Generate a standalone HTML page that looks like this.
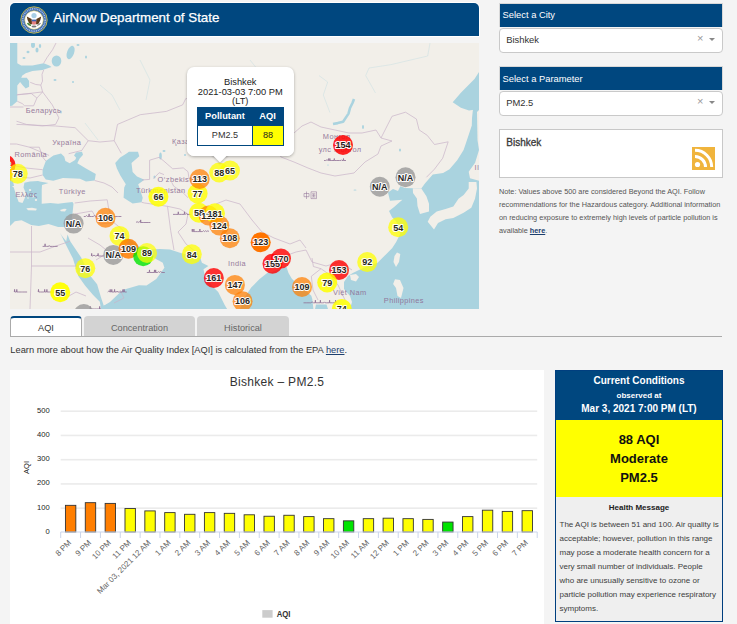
<!DOCTYPE html>
<html><head><meta charset="utf-8">
<style>
*{margin:0;padding:0;box-sizing:border-box}
html,body{width:737px;height:624px;overflow:hidden;background:#f4f4f4;font-family:"Liberation Sans",sans-serif;position:relative}
.abs{position:absolute}
#hdr{left:9px;top:2px;width:471px;height:35px;border:1px solid #fff;border-radius:6px 6px 0 0;background:#fff}
#hdr .in{position:absolute;left:0;top:0;width:469px;height:33px;background:#00477f;border-radius:5px 5px 0 0}
#hdr .t{position:absolute;left:43.3px;top:7px;color:#fff;font-size:13.35px;white-space:nowrap;-webkit-text-stroke:0.25px #fff}
#map{left:10px;top:43px;width:469px;height:266px;overflow:hidden;background:#f2efe9}
.panel{left:499px;width:224px}
.ph{position:absolute;left:0;top:0;width:224px;height:24px;background:#00477f;border:1px solid #d8d8d8;border-bottom:none;color:#fff;font-size:9.35px;padding:6.1px 0 0 2.6px}
.sel{position:absolute;left:0;top:25px;width:224px;height:24.5px;background:#fff;border:1px solid #c9c9c9;border-radius:4px;font-size:9.4px;color:#333;padding:4.8px 0 0 6.2px}
.sel .x{position:absolute;left:197px;top:3px;font-size:11px;color:#999}
.sel .ar{position:absolute;left:209px;top:9px;width:0;height:0;border-left:3px solid transparent;border-right:3px solid transparent;border-top:3.5px solid #888}
#rss{left:499px;top:129px;width:224px;height:49px;background:#fff;border:1px solid #c8c8c8}
#note{left:499px;top:185px;width:230px;font-size:7.3px;line-height:13px;color:#555}
#note b{color:#1c3f6e;text-decoration:underline}
.tab{top:316px;height:21px;font-size:9.2px;text-align:center;padding-top:5.3px}
#tab1{left:10px;width:72px;background:#fff;border:1px solid #aaa;border-top:2px solid #00477f;border-bottom:none;border-radius:4px 4px 0 0;color:#333}
#tab2{left:84px;width:111px;padding-top:7px;background:#d3d3d3;border-radius:4px 4px 0 0;color:#666}
#tab3{left:197px;width:92px;padding-top:7px;background:#d3d3d3;border-radius:4px 4px 0 0;color:#666}
#tabline{left:10px;top:336px;width:712px;height:1px;background:#aaa}
#learn{left:10.3px;top:345.4px;font-size:9.3px;color:#333;white-space:nowrap}
#learn u{color:#1c3f6e}
#chart{left:10px;top:370px;width:534px;height:254px;background:#fff}
#cc{left:555px;top:370px;width:168px;height:252px;border:1.5px solid #003f7f;background:#efefef}
#cc .h{position:absolute;left:0;top:0;width:100%;height:49px;background:#00477f;color:#fff;text-align:center;font-weight:bold}
#cc .y{position:absolute;left:0;top:49px;width:100%;height:77px;background:#ffff00;color:#111;text-align:center;font-weight:bold;font-size:13px;line-height:19px;padding-top:9.5px}
#cc .g{position:absolute;left:0;top:126px;width:100%;color:#333;font-size:8px}
</style></head><body>
<div id="hdr" class="abs"><div class="in">
 <svg class="abs" style="left:9.5px;top:2.5px" width="28" height="28" viewBox="0 0 28 28">
  <circle cx="14" cy="14" r="13.2" fill="#3a68b0" stroke="#cfc04a" stroke-width="0.9"/>
  <circle cx="14" cy="14" r="11.2" fill="none" stroke="#a9c2e6" stroke-width="1.6" stroke-dasharray="1 0.8"/>
  <circle cx="14" cy="14" r="9.3" fill="#fff" stroke="#d6c85a" stroke-width="0.6"/>
  <circle cx="14" cy="9.6" r="2.6" fill="#a8cfe6"/>
  <path d="M6.8 10.5 L11.6 13 L12.4 18.5 L9.4 17.8 L7.6 14 Z M21.2 10.5 L16.4 13 L15.6 18.5 L18.6 17.8 L20.4 14 Z" fill="#5c3c1c"/>
  <path d="M11.8 14.2 H16.2 V17.6 Q14 20 11.8 17.6 Z" fill="#e58080"/>
  <rect x="11.8" y="13.6" width="4.4" height="1.7" fill="#3a62b0"/>
  <path d="M7.5 17 Q9 19.5 11 19" stroke="#4b8a3a" stroke-width="1.6" fill="none"/>
  <path d="M17 19 Q19 19.5 20.5 17" stroke="#888" stroke-width="1.2" fill="none"/>
  <ellipse cx="14" cy="20.5" rx="2.5" ry="1" fill="#777"/>
 </svg>
 <div class="t">AirNow Department of State</div>
</div></div>

<div id="map" class="abs"><svg class="abs" style="left:0;top:0" width="469" height="266" viewBox="10 43 469 266" font-family="Liberation Sans, sans-serif">
<rect x="10" y="43" width="469" height="266" fill="#f2efe9"/>
<polygon points="10,43 17.3,43 17.3,63.2 21.2,65.4 32.4,65.4 43.7,63.2 49.3,65.4 51.5,67.1 42.5,69.9 32.4,71 25.7,73.3 22.3,75.5 21.2,77.8 26.8,77.8 29.1,81.1 29.1,86.8 25.7,88.4 22.9,85.6 20.1,82 17.3,85.6 17.3,101.3 14,104 12.2,105.8 10,106" fill="#aad3df" />
<ellipse cx="56.5" cy="61" rx="4.8" ry="5.6" fill="#aad3df" transform="rotate(0 56.5 61)"/>
<ellipse cx="70.6" cy="52.5" rx="3.5" ry="7" fill="#aad3df" transform="rotate(20 70.6 52.5)"/>
<ellipse cx="33" cy="45" rx="2" ry="3" fill="#aad3df" transform="rotate(0 33 45)"/>
<ellipse cx="37" cy="50" rx="1.5" ry="2.5" fill="#aad3df" transform="rotate(0 37 50)"/>
<ellipse cx="28" cy="52" rx="1.5" ry="1.2" fill="#aad3df" transform="rotate(0 28 52)"/>
<ellipse cx="40" cy="46" rx="1.2" ry="2" fill="#aad3df" transform="rotate(0 40 46)"/>
<ellipse cx="24" cy="58" rx="1.5" ry="1" fill="#aad3df" transform="rotate(0 24 58)"/>
<ellipse cx="78" cy="45" rx="1.5" ry="1" fill="#aad3df" transform="rotate(0 78 45)"/>
<ellipse cx="86" cy="57" rx="1" ry="1.5" fill="#aad3df" transform="rotate(0 86 57)"/>
<ellipse cx="55" cy="80" rx="1.5" ry="1" fill="#aad3df" transform="rotate(0 55 80)"/>
<ellipse cx="73" cy="82" rx="1" ry="1" fill="#aad3df" transform="rotate(0 73 82)"/>
<ellipse cx="61" cy="112" rx="0.8" ry="1.5" fill="#aad3df" transform="rotate(0 61 112)"/>
<polygon points="42.6,169.7 45.8,161 53.4,155.6 61,153.4 64.3,156.7 65.4,161 69.7,163.2 75.1,159.9 76.2,157.7 74,155.5 76,152.5 82,151.8 83,154.8 79.5,158.8 77.3,163.2 86,168.6 95.8,174 94.7,180.5 86,181.6 80,178.8 75.1,178.4 62.9,177.9 53.3,180.8 45.8,179.4 42.6,175.1" fill="#aad3df" />
<polygon points="129,151.7 138,151.7 139.3,156.2 131.5,163 132.6,172 137,176.4 144.4,179.8 138.2,184.3 142.7,197.8 141.6,202.3 132.6,203.4 123.6,197.8 124.2,187.6 125.8,184.3 120.2,175.3 116.9,168.6 115.2,163 120.2,157.4 125.8,154" fill="#aad3df" />
<polygon points="10,184.6 13.8,187.5 15.8,194.2 18.7,201.9 22.5,202.9 24.4,199 26.3,194.2 23.5,187.5 24.4,182.7 30,181.5 38,181 41,181.7 48.5,183 42,185 41.7,190 41.7,203.8 50.4,202.9 58.1,203.8 63.8,202.9 72.5,201.9 73.5,203.8 72.5,213.5 71.5,220.2 71.5,223.1 63.8,226.9 58.1,226.9 48.5,224 38.8,226 31.2,225 21.5,220.2 14.8,221.2 10,226" fill="#aad3df" />
<polygon points="10,178 13,181 14,186 10,186" fill="#aad3df" />
<polygon points="26.3,208.2 32,207.7 36.9,208.8 36,210.6 28,210.3" fill="#f2efe9" />
<polygon points="60,210 64,208.7 66.7,208.9 65,211.5 61,211.3" fill="#f2efe9" />
<ellipse cx="30" cy="190" rx="1.2" ry="1" fill="#f2efe9" transform="rotate(0 30 190)"/>
<ellipse cx="33" cy="196" rx="1" ry="1.5" fill="#f2efe9" transform="rotate(0 33 196)"/>
<ellipse cx="36" cy="200" rx="1.2" ry="1" fill="#f2efe9" transform="rotate(0 36 200)"/>
<ellipse cx="28" cy="198" rx="0.8" ry="0.8" fill="#f2efe9" transform="rotate(0 28 198)"/>
<polygon points="60.1,233.1 62,236 66.2,241.2 67.5,234.4 70.2,241.2 81,257.3 90.4,276.1 97.1,284.2 101.1,297.7 103.8,305.8 110,303 110,309 101,309 99.8,301.7 93.1,295 85,285.6 78.3,276.1 72.9,258.6 64.8,242.5" fill="#aad3df" />
<polygon points="104,309 103.8,305.8 110,302 122.6,290.1 138.9,285.3 146.5,285.6 156.3,279.1 164.4,267.7 162.8,262.8 156,259 150,256 145,251 136,244 128,238 122,240 130,246 140,249.5 150,249.5 160,249 170,249.5 180.7,253 200.3,257.9 201.9,262.8 208.4,266 203.5,269.3 205.1,277.5 213.3,287.2 218.2,292.1 224.7,305.1 227.1,309" fill="#aad3df" />
<polygon points="240,309 244.7,297.2 251.2,287.5 259.3,279.3 267.5,272.8 272.3,272 282.1,267.9 286.3,266.5 288.5,273 291.7,278.5 298,285 305,290 311.3,295.8 312.3,299 313.4,309" fill="#aad3df" />
<polygon points="316,304.5 326.5,304.5 328,309 315,309" fill="#aad3df" />
<polygon points="479,109 473,109 472,118 471.8,125.5 466.4,141.8 463.6,150 457.2,160.3 449.5,169.2 443.1,173.1 432.8,174.4 425.1,183.3 421.3,188.5 412.8,188.3 405,188 400.3,186.2 398,191 393,189 388,192.4 390,200.7 402.4,199.7 394.1,206.9 389,211 392.1,217.2 396.2,221.4 400.3,233.8 396.2,242.1 392.1,248.3 383.8,256.6 377.6,262.8 365.2,266.9 356.9,271 352.8,273.1 348,276 344,282 344,289 350,296 352,302 350,309 479,309" fill="#aad3df" />
<polygon points="452.7,102.3 460.9,92.7 474.5,79.1 479,72 479,109 469,110.4 460.9,107.7" fill="#aad3df" />
<polygon points="412.8,188.3 421.3,188.5 426.4,196.2 429,203.8 429,211.5 420,214.1 417.5,206 416.9,198.6 413,193" fill="#f2efe9" />
<polygon points="468.7,182 476.4,182 477,188.5 475,198.7 471.3,207.7 463.6,212.8 453.3,218 445.6,219.2 438,223 434,229.5 427.7,221.8 430.3,216.7 436.7,211.5 445.6,209 453.3,206.4 458.5,198.7 463.6,194.9 468.7,188.5" fill="#f2efe9" />
<polygon points="479,150 475.1,162.8 468.7,171.8 470,178.2 479,180.8" fill="#f2efe9" />
<polygon points="477,112 479,110 479,150 477.5,140" fill="#f2efe9" />
<polygon points="397,252.4 400.3,254 399,262 396,266.9 393.5,262 394.5,256" fill="#f2efe9" />
<polygon points="395,279.3 400,280 403.5,288 401,297.9 397.5,296 396,288 393.1,284" fill="#f2efe9" />
<polygon points="350,275 356,274.1 359,277 356,281.4 351,280" fill="#f2efe9" />
<polyline points="354,99 352.6,102.7 350,108 348.5,113.6 343.1,121.7 337.7,123.1 333,124" fill="none" stroke="#aad3df" stroke-width="2.6" stroke-linejoin="round" />
<polyline points="430,43 427.7,56 390.7,64.7 369,68 365.7,75.6 375.5,93" fill="none" stroke="#aad3df" stroke-width="0.5" stroke-linejoin="round" opacity="0.6"/>
<polyline points="319,75.6 327.7,82 323.3,95 329.9,112.5" fill="none" stroke="#aad3df" stroke-width="0.5" stroke-linejoin="round" opacity="0.6"/>
<polyline points="250,60 262,75 258,90" fill="none" stroke="#aad3df" stroke-width="0.5" stroke-linejoin="round" opacity="0.6"/>
<polyline points="140,60 150,80 146,100" fill="none" stroke="#aad3df" stroke-width="0.5" stroke-linejoin="round" opacity="0.6"/>
<polyline points="100,85 112,95 120,110" fill="none" stroke="#aad3df" stroke-width="0.5" stroke-linejoin="round" opacity="0.6"/>
<polyline points="85,123 98,140" fill="none" stroke="#aad3df" stroke-width="0.5" stroke-linejoin="round" opacity="0.6"/>
<ellipse cx="160.5" cy="156" rx="1.3" ry="3.5" fill="#aad3df" transform="rotate(0 160.5 156)"/>
<ellipse cx="154.5" cy="177" rx="1" ry="1.5" fill="#aad3df" transform="rotate(0 154.5 177)"/>
<ellipse cx="164" cy="151" rx="1.5" ry="1" fill="#aad3df" transform="rotate(0 164 151)"/>
<ellipse cx="130" cy="166" rx="0.8" ry="0.8" fill="#aad3df" transform="rotate(0 130 166)"/>
<ellipse cx="363" cy="127" rx="1" ry="2" fill="#aad3df" transform="rotate(0 363 127)"/>
<ellipse cx="400" cy="150" rx="1" ry="1.5" fill="#aad3df" transform="rotate(0 400 150)"/>
<ellipse cx="328" cy="165" rx="0.8" ry="0.6" fill="#aad3df" transform="rotate(0 328 165)"/>
<ellipse cx="355" cy="190" rx="1.5" ry="0.6" fill="#aad3df" transform="rotate(0 355 190)"/>
<ellipse cx="185" cy="155" rx="1" ry="1" fill="#aad3df" transform="rotate(0 185 155)"/>
<polyline points="56,43 52.6,49.7 47,57.6 43.7,63.2" fill="none" stroke="#c9b3c9" stroke-width="0.7" stroke-linejoin="round" />
<polyline points="43.7,69.9 42,74.4 42.5,81.1 40.8,85.1 35.8,84.5 30.2,82.3" fill="none" stroke="#c9b3c9" stroke-width="0.7" stroke-linejoin="round" />
<polyline points="40.8,85.1 42.6,91.9" fill="none" stroke="#c9b3c9" stroke-width="0.7" stroke-linejoin="round" />
<polyline points="17.3,94.6 31.3,93.5 36.9,98 42.6,91.9" fill="none" stroke="#c9b3c9" stroke-width="0.7" stroke-linejoin="round" />
<polyline points="17.3,101.3 22.3,103.6 24.6,105.8 33.6,105.8 36.9,98" fill="none" stroke="#c9b3c9" stroke-width="0.7" stroke-linejoin="round" />
<polyline points="16.5,95 42.6,91.9 52.3,104.9 58.9,117.9 55.6,124.4 42.6,126 26.3,124.4 16.5,121.2" fill="none" stroke="#c9b3c9" stroke-width="0.7" stroke-linejoin="round" />
<polyline points="10,107 23.5,107" fill="none" stroke="#c9b3c9" stroke-width="0.7" stroke-linejoin="round" />
<polyline points="16.5,124.4 55.6,126 75.1,127.7 88.2,140.7 81.7,150.5 68.6,153.7" fill="none" stroke="#c9b3c9" stroke-width="0.7" stroke-linejoin="round" />
<polyline points="49.1,155.4 29.5,147.2 16.5,144 10,144" fill="none" stroke="#c9b3c9" stroke-width="0.7" stroke-linejoin="round" />
<polyline points="29.5,147.2 39.3,147.2 42.6,157 45.8,161" fill="none" stroke="#c9b3c9" stroke-width="0.7" stroke-linejoin="round" />
<polyline points="10,160 16,166 26,168 42.6,169.7" fill="none" stroke="#c9b3c9" stroke-width="0.7" stroke-linejoin="round" />
<polyline points="10,178 18,177 30,178 42.6,175" fill="none" stroke="#c9b3c9" stroke-width="0.7" stroke-linejoin="round" />
<polyline points="94.7,180.5 104,183 112,187 118,193" fill="none" stroke="#c9b3c9" stroke-width="0.7" stroke-linejoin="round" />
<polyline points="74.7,203 90,201 107.2,199.8 108.8,209.5 113.7,222.5 121.8,229 128.4,237.2" fill="none" stroke="#c9b3c9" stroke-width="0.7" stroke-linejoin="round" />
<polyline points="75,214 92,211 100,224 113.7,222.5" fill="none" stroke="#c9b3c9" stroke-width="0.7" stroke-linejoin="round" />
<polyline points="88.2,140.7 100,142 114.2,140.7" fill="none" stroke="#c9b3c9" stroke-width="0.7" stroke-linejoin="round" />
<polyline points="114.2,140.7 117.5,124.4 140.3,114.7 166.4,111.4 182.6,104.9 185.9,98.4 200,104 218,104 240,108 260,113 280,118 294,133" fill="none" stroke="#c9b3c9" stroke-width="0.7" stroke-linejoin="round" />
<polyline points="114.2,140.7 121.3,153.3" fill="none" stroke="#c9b3c9" stroke-width="0.7" stroke-linejoin="round" />
<polyline points="142,180 149.6,179.4 149.6,160.2 159.2,157.3 164,161.2 172.7,168.8 183.3,167.9 188,171.7 189,178.5" fill="none" stroke="#c9b3c9" stroke-width="0.7" stroke-linejoin="round" />
<polyline points="171.7,182.3 173.7,186.2 182.3,192 188,197.7" fill="none" stroke="#c9b3c9" stroke-width="0.7" stroke-linejoin="round" />
<polyline points="153.5,178.5 159.2,172.7 164,174.6" fill="none" stroke="#c9b3c9" stroke-width="0.7" stroke-linejoin="round" />
<polyline points="141.6,202.3 144.6,203 167.5,206.3 180,209 188,214" fill="none" stroke="#c9b3c9" stroke-width="0.7" stroke-linejoin="round" />
<polyline points="167.5,206.3 170.7,230.7 174,250" fill="none" stroke="#c9b3c9" stroke-width="0.7" stroke-linejoin="round" />
<polyline points="188,214 186,224 178,232 186,244 196,252 200.3,257.9" fill="none" stroke="#c9b3c9" stroke-width="0.7" stroke-linejoin="round" />
<polyline points="216,204 226,200 240,204 252,220 262,232 274,238 290,244 300,240 306,248" fill="none" stroke="#c9b3c9" stroke-width="0.7" stroke-linejoin="round" />
<polyline points="270,255 282,257 296,252 306,250 312,262 326,266 340,262 352,270" fill="none" stroke="#c9b3c9" stroke-width="0.7" stroke-linejoin="round" />
<polyline points="312,258 313.4,266.5 321,268.7 311.3,276.3 313,290 318,300" fill="none" stroke="#c9b3c9" stroke-width="0.7" stroke-linejoin="round" />
<polyline points="321,268.7 330,275 338,285 345,300" fill="none" stroke="#c9b3c9" stroke-width="0.7" stroke-linejoin="round" />
<polyline points="10,252 40,252 56,246 70.2,241.2" fill="none" stroke="#c9b3c9" stroke-width="0.7" stroke-linejoin="round" />
<polyline points="31.5,226 31.5,266 60,266 78.3,266" fill="none" stroke="#c9b3c9" stroke-width="0.7" stroke-linejoin="round" />
<polyline points="31.5,266 30,309" fill="none" stroke="#c9b3c9" stroke-width="0.7" stroke-linejoin="round" />
<polyline points="88,238 100,245 116,258 104,255 96,260" fill="none" stroke="#c9b3c9" stroke-width="0.7" stroke-linejoin="round" />
<polyline points="120,290 124,298 114,303" fill="none" stroke="#c9b3c9" stroke-width="0.7" stroke-linejoin="round" />
<polyline points="62,300 76,292 86,296" fill="none" stroke="#c9b3c9" stroke-width="0.7" stroke-linejoin="round" />
<polyline points="294,133 302,126 311,122 321,127 335,130 349,133 362,133 376,130 381,138 392,141 381,146 378,154 365,162 354,173 335,176 321,173 308,168 294,162 281,157 275,146 284,140 294,133" fill="none" stroke="#c9b3c9" stroke-width="0.7" stroke-linejoin="round" />
<polyline points="381,138 392,116.3 405.5,112.2 416.4,119 419.1,129.9 427.2,135.3 434.5,144.5 448.2,141.8 442.7,158.2 434.5,169.1 426.4,177.3" fill="none" stroke="#c9b3c9" stroke-width="0.7" stroke-linejoin="round" />
<text x="25.7" y="112.5" font-size="7.4" fill="#8e6f95" letter-spacing="0.4" opacity="0.9">Беларусь</text>
<text x="52.3" y="144.7" font-size="7.4" fill="#8e6f95" letter-spacing="0.4" opacity="0.9">Україна</text>
<text x="14.6" y="156.6" font-size="7.4" fill="#8e6f95" letter-spacing="0.4" opacity="0.9">România</text>
<text x="58.8" y="193.6" font-size="7.4" fill="#8e6f95" letter-spacing="0.4" opacity="0.9">Türkiye</text>
<text x="15.4" y="196.8" font-size="7.4" fill="#8e6f95" letter-spacing="0.4" opacity="0.9">Ελλάς</text>
<text x="136" y="192.6" font-size="7.4" fill="#8e6f95" letter-spacing="0.4" opacity="0.9">Türkmenistan</text>
<text x="157.6" y="181.6" font-size="7.4" fill="#8e6f95" letter-spacing="0.4" opacity="0.9">O‘zbekiston</text>
<text x="172" y="144" font-size="7.4" fill="#8e6f95" letter-spacing="0.4" opacity="0.9">Қазақстан</text>
<text x="322.8" y="139.3" font-size="7.4" fill="#8e6f95" letter-spacing="0.4" opacity="0.9">Монгол</text>
<text x="318.7" y="151.6" font-size="7.4" fill="#8e6f95" letter-spacing="0.4" opacity="0.9">улс Монгол</text>
<text x="228" y="265.5" font-size="7.4" fill="#8e6f95" letter-spacing="0.4" opacity="0.9">India</text>
<text x="333" y="294.5" font-size="7.4" fill="#8e6f95" letter-spacing="0.4" opacity="0.9">Việt Nam</text>
<text x="383.8" y="303.3" font-size="7.4" fill="#8e6f95" letter-spacing="0.4" opacity="0.9">Philippines</text>
<text x="474.5" y="170" font-size="7.4" fill="#8e6f95" letter-spacing="0.4" opacity="0.9">II</text>
<path d="M83.8 216.5 L85.4 216.5 Q86.5 214.7 87.6 216.5 L87.6 216.5 L88.8 216.5 L89.1 213.9 L89.3 216.5 L91.6 216.5 L93.2 216.5 Q94.6 214.7 96.0 216.5 L96.0 216.5 L98.8 216.5 L100.4 216.5 L103.2 216.5 L104.4 216.5 L104.7 213.9 L104.9 216.5 L105.6 216.5 L105.9 213.9 L106.1 216.5 L106.8 216.5 Q108.2 214.7 109.6 216.5 L109.6 216.5 Q111.0 214.7 112.4 216.5 L112.4 216.5 L115.2 216.5 L117.4 216.5 L118.6 216.5 L121.4 216.5" fill="none" stroke="#8e6f95" stroke-width="1" opacity="0.8"/>
<path d="M136.0 222.5 Q137.1 220.7 138.2 222.5 L138.2 222.5 Q139.3 220.7 140.4 222.5 L140.4 222.5 L140.7 219.9 L140.9 222.5 L143.2 222.5 L146.0 222.5 L148.2 222.5 L150.4 222.5" fill="none" stroke="#8e6f95" stroke-width="1" opacity="0.8"/>
<path d="M42.6 246.4 L44.8 246.4 L45.1 243.8 L45.3 246.4 L46.4 246.4 L48.6 246.4 Q49.2 244.6 49.8 246.4 L49.8 246.4 L52.6 246.4 L54.8 246.4 L57.6 246.4" fill="none" stroke="#8e6f95" stroke-width="1" opacity="0.8"/>
<path d="M91.4 256.0 L91.7 253.4 L91.9 256.0 L92.6 256.0 Q94.0 254.2 95.4 256.0 L95.4 256.0 L96.6 256.0 Q97.2 254.2 97.8 256.0 L97.8 256.0 L98.1 253.4 L98.3 256.0 L100.0 256.0 L101.6 256.0 L103.8 256.0" fill="none" stroke="#8e6f95" stroke-width="1" opacity="0.8"/>
<path d="M146.8 272.5 L148.0 272.5 L149.2 272.5 L149.5 269.9 L149.7 272.5 L152.0 272.5 L154.2 272.5 L154.5 269.9 L154.7 272.5 L155.4 272.5 L155.7 269.9 L155.9 272.5 L157.6 272.5 Q158.4 270.7 159.2 272.5 L159.2 272.5 Q160.6 270.7 162.0 272.5 L162.0 272.5 L164.8 272.5" fill="none" stroke="#8e6f95" stroke-width="1" opacity="0.8"/>
<path d="M107.7 292.0 Q108.8 290.2 109.9 292.0 L109.9 292.0 L110.2 289.4 L110.4 292.0 L111.5 292.0 L111.8 289.4 L112.0 292.0 L114.3 292.0 L114.6 289.4 L114.8 292.0 L116.5 292.0 Q117.1 290.2 117.7 292.0 L117.7 292.0 L119.9 292.0 L122.7 292.0 L123.0 289.4 L123.2 292.0 L123.9 292.0 L124.2 289.4 L124.4 292.0 L126.7 292.0" fill="none" stroke="#8e6f95" stroke-width="1" opacity="0.8"/>
<path d="M38.2 292.0 L38.5 289.4 L38.7 292.0 L40.4 292.0 L43.2 292.0 L44.4 292.0 L44.7 289.4 L44.9 292.0 L46.6 292.0 L46.9 289.4 L47.1 292.0 L49.4 292.0 L51.6 292.0 L53.8 292.0" fill="none" stroke="#8e6f95" stroke-width="1" opacity="0.8"/>
<path d="M14.3 292.0 L14.6 289.4 L14.8 292.0 L16.5 292.0 L16.8 289.4 L17.0 292.0 L18.7 292.0 L21.5 292.0 L22.7 292.0 L24.9 292.0 L27.1 292.0" fill="none" stroke="#8e6f95" stroke-width="1" opacity="0.8"/>
<path d="M173.0 214.4 L175.2 214.4 L178.0 214.4 L178.3 211.8 L178.5 214.4 L179.2 214.4 L181.4 214.4 L184.2 214.4 L184.5 211.8 L184.7 214.4 L185.4 214.4 Q186.2 212.6 187.0 214.4 L187.0 214.4 L189.2 214.4 L190.4 214.4" fill="none" stroke="#8e6f95" stroke-width="1" opacity="0.8"/>
<path d="M192.0 231.6 L192.3 229.0 L192.5 231.6 L193.6 231.6 L193.9 229.0 L194.1 231.6 L195.2 231.6 L197.4 231.6 L199.6 231.6 L199.9 229.0 L200.1 231.6 L202.4 231.6 Q203.5 229.8 204.6 231.6 L204.6 231.6 Q205.7 229.8 206.8 231.6 L206.8 231.6 Q207.9 229.8 209.0 231.6 L209.0 231.6" fill="none" stroke="#8e6f95" stroke-width="1" opacity="0.8"/>
<path d="M303.5 302.8 L306.3 302.8 L309.1 302.8 L310.7 302.8 Q312.1 301.0 313.5 302.8 L313.5 302.8 L315.1 302.8 L315.4 300.2 L315.6 302.8 L317.9 302.8 L320.1 302.8 L320.4 300.2 L320.6 302.8 L321.3 302.8 L322.5 302.8 L323.7 302.8 Q324.5 301.0 325.3 302.8 L325.3 302.8 L326.5 302.8 L329.3 302.8 L329.6 300.2 L329.8 302.8 L330.9 302.8 L332.5 302.8 L335.3 302.8 L335.6 300.2 L335.8 302.8 L336.5 302.8" fill="none" stroke="#8e6f95" stroke-width="1" opacity="0.8"/>
<path d="M90.0 309.0 L90.3 306.4 L90.5 309.0 L91.6 309.0 L94.4 309.0 L96.6 309.0 L98.2 309.0 L99.4 309.0 L99.7 306.4 L99.9 309.0 L101.0 309.0" fill="none" stroke="#8e6f95" stroke-width="1" opacity="0.8"/>
<path d="M304 193.5 h5 v3.2 h-5 z M306.5 191.5 v7.5 M311 191.8 h5.5 v6.8 h-5.5 z M312 193.8 h3.5 M312 195.3 h3.5 M312 197 h3.5 M313.7 193.8 v3.2" fill="none" stroke="#8e6f95" stroke-width="0.7" opacity="0.75"/>
<path d="M324.0 160.5 L325.6 160.5 Q327.0 159.1 328.4 160.5 L328.4 160.5 L328.7 158.5 L328.9 160.5 L329.6 160.5 L329.9 158.5 L330.1 160.5 L331.2 160.5 L334.0 160.5 L334.3 158.5 L334.5 160.5 L336.8 160.5 L338.0 160.5 L339.6 160.5 L340.8 160.5 Q341.4 159.1 342.0 160.5 L342.0 160.5 L343.2 160.5 L343.5 158.5 L343.7 160.5 L346.0 160.5" fill="none" stroke="#8e6f95" stroke-width="1" opacity="0.8"/>
<circle cx="5.6" cy="165" r="10" fill="#ff0000" fill-opacity="0.85"/>
<circle cx="2.5" cy="174.5" r="10" fill="#ff7e00" fill-opacity="0.85"/>
<circle cx="17.7" cy="173.7" r="10" fill="#ffff00" fill-opacity="0.72"/>
<circle cx="343" cy="145" r="10" fill="#ff0000" fill-opacity="0.85"/>
<circle cx="379.8" cy="186.8" r="10" fill="#999999" fill-opacity="0.8"/>
<circle cx="405.5" cy="177.3" r="10" fill="#999999" fill-opacity="0.8"/>
<circle cx="398.2" cy="227.3" r="10" fill="#ffff00" fill-opacity="0.75"/>
<circle cx="367.2" cy="262.1" r="10" fill="#ffff00" fill-opacity="0.75"/>
<circle cx="339" cy="270" r="10" fill="#ff0000" fill-opacity="0.8"/>
<circle cx="327.2" cy="282.5" r="10" fill="#ffff00" fill-opacity="0.85"/>
<circle cx="302" cy="287" r="10" fill="#ff7e00" fill-opacity="0.72"/>
<circle cx="341.8" cy="309" r="10" fill="#ffff00" fill-opacity="0.85"/>
<circle cx="272.5" cy="263.7" r="10" fill="#ff0000" fill-opacity="0.8"/>
<circle cx="281" cy="258.5" r="10" fill="#ff0000" fill-opacity="0.8"/>
<circle cx="260.7" cy="242.2" r="10" fill="#ff7400" fill-opacity="1"/>
<circle cx="229.8" cy="238.2" r="10" fill="#ff7e00" fill-opacity="0.72"/>
<circle cx="197.6" cy="193.5" r="10" fill="#ffff00" fill-opacity="0.8"/>
<circle cx="199.7" cy="179" r="10" fill="#ff7e00" fill-opacity="0.72"/>
<circle cx="219.2" cy="172.5" r="10" fill="#ffff00" fill-opacity="0.75"/>
<circle cx="230" cy="170.5" r="10" fill="#ffff00" fill-opacity="0.75"/>
<circle cx="158.4" cy="196.7" r="10" fill="#ffff00" fill-opacity="0.85"/>
<circle cx="199" cy="212.8" r="10" fill="#ffff00" fill-opacity="0.8"/>
<circle cx="208.5" cy="215.5" r="10" fill="#ff7e00" fill-opacity="0.72"/>
<circle cx="215" cy="213.3" r="10" fill="#ffff00" fill-opacity="0.8"/>
<circle cx="219.3" cy="225.5" r="10" fill="#ff7e00" fill-opacity="0.72"/>
<circle cx="105.5" cy="217.8" r="10" fill="#ff7e00" fill-opacity="0.72"/>
<circle cx="73.6" cy="223.6" r="10" fill="#999999" fill-opacity="0.8"/>
<circle cx="119.5" cy="235.9" r="10" fill="#ffff00" fill-opacity="0.75"/>
<circle cx="113.3" cy="254.9" r="10" fill="#999999" fill-opacity="0.8"/>
<circle cx="128.5" cy="248.7" r="10" fill="#ff7e00" fill-opacity="0.85"/>
<circle cx="143.2" cy="256.3" r="10" fill="#00e400" fill-opacity="0.8"/>
<circle cx="147" cy="253" r="10" fill="#ffff00" fill-opacity="0.7"/>
<circle cx="191.8" cy="254.3" r="10" fill="#ffff00" fill-opacity="0.75"/>
<circle cx="85.3" cy="268.3" r="10" fill="#ffff00" fill-opacity="0.75"/>
<circle cx="60.2" cy="292.3" r="10" fill="#ffff00" fill-opacity="0.95"/>
<circle cx="213.8" cy="278" r="10" fill="#ff0000" fill-opacity="0.8"/>
<circle cx="234.9" cy="284.9" r="10" fill="#ff7e00" fill-opacity="0.72"/>
<circle cx="242.6" cy="301.2" r="10" fill="#ff7e00" fill-opacity="0.72"/>
<circle cx="83.8" cy="314" r="10" fill="#999999" fill-opacity="0.8"/>
<text x="5.6" y="168.2" text-anchor="middle" font-size="9" font-weight="bold" fill="#1a1a1a" stroke="#fff" stroke-width="2.2" stroke-linejoin="round" paint-order="stroke" opacity="0.95">72</text>
<text x="17.7" y="176.89999999999998" text-anchor="middle" font-size="9" font-weight="bold" fill="#1a1a1a" stroke="#fff" stroke-width="2.2" stroke-linejoin="round" paint-order="stroke" opacity="0.95">78</text>
<text x="343" y="148.2" text-anchor="middle" font-size="9" font-weight="bold" fill="#1a1a1a" stroke="#fff" stroke-width="2.2" stroke-linejoin="round" paint-order="stroke" opacity="0.95">154</text>
<text x="379.8" y="190.0" text-anchor="middle" font-size="9" font-weight="bold" fill="#1a1a1a" stroke="#fff" stroke-width="2.2" stroke-linejoin="round" paint-order="stroke" opacity="0.95">N/A</text>
<text x="405.5" y="180.5" text-anchor="middle" font-size="9" font-weight="bold" fill="#1a1a1a" stroke="#fff" stroke-width="2.2" stroke-linejoin="round" paint-order="stroke" opacity="0.95">N/A</text>
<text x="398.2" y="230.5" text-anchor="middle" font-size="9" font-weight="bold" fill="#1a1a1a" stroke="#fff" stroke-width="2.2" stroke-linejoin="round" paint-order="stroke" opacity="0.95">54</text>
<text x="367.2" y="265.3" text-anchor="middle" font-size="9" font-weight="bold" fill="#1a1a1a" stroke="#fff" stroke-width="2.2" stroke-linejoin="round" paint-order="stroke" opacity="0.95">92</text>
<text x="339" y="273.2" text-anchor="middle" font-size="9" font-weight="bold" fill="#1a1a1a" stroke="#fff" stroke-width="2.2" stroke-linejoin="round" paint-order="stroke" opacity="0.95">153</text>
<text x="327.2" y="285.7" text-anchor="middle" font-size="9" font-weight="bold" fill="#1a1a1a" stroke="#fff" stroke-width="2.2" stroke-linejoin="round" paint-order="stroke" opacity="0.95">79</text>
<text x="302" y="290.2" text-anchor="middle" font-size="9" font-weight="bold" fill="#1a1a1a" stroke="#fff" stroke-width="2.2" stroke-linejoin="round" paint-order="stroke" opacity="0.95">109</text>
<text x="341.8" y="312.2" text-anchor="middle" font-size="9" font-weight="bold" fill="#1a1a1a" stroke="#fff" stroke-width="2.2" stroke-linejoin="round" paint-order="stroke" opacity="0.95">74</text>
<text x="272.5" y="266.9" text-anchor="middle" font-size="9" font-weight="bold" fill="#1a1a1a" stroke="#fff" stroke-width="2.2" stroke-linejoin="round" paint-order="stroke" opacity="0.95">155</text>
<text x="281" y="261.7" text-anchor="middle" font-size="9" font-weight="bold" fill="#1a1a1a" stroke="#fff" stroke-width="2.2" stroke-linejoin="round" paint-order="stroke" opacity="0.95">170</text>
<text x="260.7" y="245.39999999999998" text-anchor="middle" font-size="9" font-weight="bold" fill="#1a1a1a" stroke="#fff" stroke-width="2.2" stroke-linejoin="round" paint-order="stroke" opacity="0.95">123</text>
<text x="229.8" y="241.39999999999998" text-anchor="middle" font-size="9" font-weight="bold" fill="#1a1a1a" stroke="#fff" stroke-width="2.2" stroke-linejoin="round" paint-order="stroke" opacity="0.95">108</text>
<text x="197.6" y="196.7" text-anchor="middle" font-size="9" font-weight="bold" fill="#1a1a1a" stroke="#fff" stroke-width="2.2" stroke-linejoin="round" paint-order="stroke" opacity="0.95">77</text>
<text x="199.7" y="182.2" text-anchor="middle" font-size="9" font-weight="bold" fill="#1a1a1a" stroke="#fff" stroke-width="2.2" stroke-linejoin="round" paint-order="stroke" opacity="0.95">113</text>
<text x="219.2" y="175.7" text-anchor="middle" font-size="9" font-weight="bold" fill="#1a1a1a" stroke="#fff" stroke-width="2.2" stroke-linejoin="round" paint-order="stroke" opacity="0.95">88</text>
<text x="230" y="173.7" text-anchor="middle" font-size="9" font-weight="bold" fill="#1a1a1a" stroke="#fff" stroke-width="2.2" stroke-linejoin="round" paint-order="stroke" opacity="0.95">65</text>
<text x="158.4" y="199.89999999999998" text-anchor="middle" font-size="9" font-weight="bold" fill="#1a1a1a" stroke="#fff" stroke-width="2.2" stroke-linejoin="round" paint-order="stroke" opacity="0.95">66</text>
<text x="199" y="216.0" text-anchor="middle" font-size="9" font-weight="bold" fill="#1a1a1a" stroke="#fff" stroke-width="2.2" stroke-linejoin="round" paint-order="stroke" opacity="0.95">58</text>
<text x="208.5" y="218.7" text-anchor="middle" font-size="9" font-weight="bold" fill="#1a1a1a" stroke="#fff" stroke-width="2.2" stroke-linejoin="round" paint-order="stroke" opacity="0.95">118</text>
<text x="215" y="216.5" text-anchor="middle" font-size="9" font-weight="bold" fill="#1a1a1a" stroke="#fff" stroke-width="2.2" stroke-linejoin="round" paint-order="stroke" opacity="0.95">181</text>
<text x="219.3" y="228.7" text-anchor="middle" font-size="9" font-weight="bold" fill="#1a1a1a" stroke="#fff" stroke-width="2.2" stroke-linejoin="round" paint-order="stroke" opacity="0.95">124</text>
<text x="105.5" y="221.0" text-anchor="middle" font-size="9" font-weight="bold" fill="#1a1a1a" stroke="#fff" stroke-width="2.2" stroke-linejoin="round" paint-order="stroke" opacity="0.95">106</text>
<text x="73.6" y="226.79999999999998" text-anchor="middle" font-size="9" font-weight="bold" fill="#1a1a1a" stroke="#fff" stroke-width="2.2" stroke-linejoin="round" paint-order="stroke" opacity="0.95">N/A</text>
<text x="119.5" y="239.1" text-anchor="middle" font-size="9" font-weight="bold" fill="#1a1a1a" stroke="#fff" stroke-width="2.2" stroke-linejoin="round" paint-order="stroke" opacity="0.95">74</text>
<text x="113.3" y="258.1" text-anchor="middle" font-size="9" font-weight="bold" fill="#1a1a1a" stroke="#fff" stroke-width="2.2" stroke-linejoin="round" paint-order="stroke" opacity="0.95">N/A</text>
<text x="128.5" y="251.89999999999998" text-anchor="middle" font-size="9" font-weight="bold" fill="#1a1a1a" stroke="#fff" stroke-width="2.2" stroke-linejoin="round" paint-order="stroke" opacity="0.95">109</text>
<text x="147" y="256.2" text-anchor="middle" font-size="9" font-weight="bold" fill="#1a1a1a" stroke="#fff" stroke-width="2.2" stroke-linejoin="round" paint-order="stroke" opacity="0.95">89</text>
<text x="191.8" y="257.5" text-anchor="middle" font-size="9" font-weight="bold" fill="#1a1a1a" stroke="#fff" stroke-width="2.2" stroke-linejoin="round" paint-order="stroke" opacity="0.95">84</text>
<text x="85.3" y="271.5" text-anchor="middle" font-size="9" font-weight="bold" fill="#1a1a1a" stroke="#fff" stroke-width="2.2" stroke-linejoin="round" paint-order="stroke" opacity="0.95">76</text>
<text x="60.2" y="295.5" text-anchor="middle" font-size="9" font-weight="bold" fill="#1a1a1a" stroke="#fff" stroke-width="2.2" stroke-linejoin="round" paint-order="stroke" opacity="0.95">55</text>
<text x="213.8" y="281.2" text-anchor="middle" font-size="9" font-weight="bold" fill="#1a1a1a" stroke="#fff" stroke-width="2.2" stroke-linejoin="round" paint-order="stroke" opacity="0.95">161</text>
<text x="234.9" y="288.09999999999997" text-anchor="middle" font-size="9" font-weight="bold" fill="#1a1a1a" stroke="#fff" stroke-width="2.2" stroke-linejoin="round" paint-order="stroke" opacity="0.95">147</text>
<text x="242.6" y="304.4" text-anchor="middle" font-size="9" font-weight="bold" fill="#1a1a1a" stroke="#fff" stroke-width="2.2" stroke-linejoin="round" paint-order="stroke" opacity="0.95">106</text>
</svg>
 <div class="abs" style="left:176.5px;top:24px;width:107.5px;height:89px;background:#fff;border-radius:7px;box-shadow:0 1px 3px rgba(0,0,0,0.3)"></div>
 <div class="abs" style="left:203.5px;top:104.5px;width:12px;height:12px;background:#fff;transform:rotate(45deg);box-shadow:1px 1px 2px rgba(0,0,0,0.2)"></div>
 <div class="abs" style="left:176.5px;top:100px;width:107.5px;height:13px;background:#fff;border-radius:0 0 7px 7px"></div>
 <div class="abs" style="left:176.5px;top:34.9px;width:107.5px;text-align:center;font-size:9.3px;line-height:9.8px;color:#222">Bishkek<br>2021-03-03 7:00 PM<br>(LT)</div>
 <div class="abs" style="left:187px;top:64px;width:87px;height:39px;border:1px solid #00477f;background:#fff">
  <div class="abs" style="left:0;top:0;width:85px;height:18px;background:#00477f"></div>
  <div class="abs" style="left:0;top:2.7px;width:54px;text-align:center;color:#fff;font-weight:bold;font-size:9.3px">Pollutant</div>
  <div class="abs" style="left:54px;top:2.7px;width:31px;text-align:center;color:#fff;font-weight:bold;font-size:9.3px">AQI</div>
  <div class="abs" style="left:54px;top:18px;width:1px;height:19px;background:#00477f"></div>
  <div class="abs" style="left:55px;top:18px;width:30px;height:19px;background:#ffff00"></div>
  <div class="abs" style="left:0;top:21.7px;width:54px;text-align:center;color:#333;font-size:9.1px">PM2.5</div>
  <div class="abs" style="left:55px;top:21.7px;width:30px;text-align:center;color:#222;font-size:9.1px">88</div>
 </div></div>

<div class="abs panel" style="top:3px;height:50px">
 <div class="ph">Select a City</div>
 <div class="sel">Bishkek<span class="x">×</span><span class="ar"></span></div>
</div>
<div class="abs panel" style="top:66px;height:50px">
 <div class="ph" style="padding-top:6.6px">Select a Parameter</div>
 <div class="sel">PM2.5<span class="x">×</span><span class="ar"></span></div>
</div>
<div id="rss" class="abs">
 <div class="abs" style="left:6.3px;top:7px;font-size:10px;color:#3a3a3a;-webkit-text-stroke:0.3px #3a3a3a">Bishkek</div>
 <svg class="abs" style="left:192px;top:17px" width="23" height="23" viewBox="0 0 23 23">
  <rect width="23" height="23" fill="#f0b43c"/>
  <circle cx="5.5" cy="17.5" r="2.6" fill="#fff"/>
  <path d="M3 9.5 A10.5 10.5 0 0 1 13.5 20" stroke="#fff" stroke-width="3" fill="none"/>
  <path d="M3 3.3 A16.7 16.7 0 0 1 19.7 20" stroke="#fff" stroke-width="3" fill="none"/>
 </svg>
</div>
<div id="note" class="abs">Note: Values above 500 are considered Beyond the AQI. Follow recommendations for the Hazardous category. Additional information on reducing exposure to extremely high levels of particle pollution is available <b>here</b>.</div>

<div id="tab1" class="abs tab">AQI</div>
<div id="tab2" class="abs tab">Concentration</div>
<div id="tab3" class="abs tab">Historical</div>
<div id="tabline" class="abs"></div>
<div id="learn" class="abs">Learn more about how the Air Quality Index [AQI] is calculated from the EPA <u>here</u>.</div>

<div id="chart" class="abs"><svg class="abs" style="left:0;top:0" width="534" height="254" viewBox="0 0 534 254" font-family="Liberation Sans, sans-serif">
<text x="267" y="15.8" text-anchor="middle" font-size="12" fill="#333" letter-spacing="0.3">Bishkek – PM2.5</text>
<rect x="50.7" y="137.36" width="476.5" height="1.6" fill="#ebebeb"/>
<rect x="50.7" y="113.12" width="476.5" height="1.6" fill="#ebebeb"/>
<rect x="50.7" y="88.88" width="476.5" height="1.6" fill="#ebebeb"/>
<rect x="50.7" y="64.64" width="476.5" height="1.6" fill="#ebebeb"/>
<rect x="50.7" y="40.40" width="476.5" height="1.6" fill="#ebebeb"/>
<text x="39.7" y="163.80" text-anchor="end" font-size="7.6" fill="#222">0</text>
<text x="39.7" y="139.56" text-anchor="end" font-size="7.6" fill="#222">100</text>
<text x="39.7" y="115.32" text-anchor="end" font-size="7.6" fill="#222">200</text>
<text x="39.7" y="91.08" text-anchor="end" font-size="7.6" fill="#222">300</text>
<text x="39.7" y="66.84" text-anchor="end" font-size="7.6" fill="#222">400</text>
<text x="39.7" y="42.60" text-anchor="end" font-size="7.6" fill="#222">500</text>
<text transform="translate(18.6,97.5) rotate(-90)" text-anchor="middle" font-size="7.6" fill="#222">AQI</text>
<rect x="55.43" y="135.34" width="10.4" height="26.66" fill="#ff7e00" stroke="#333" stroke-width="0.9"/>
<rect x="75.28" y="132.67" width="10.4" height="29.33" fill="#ff7e00" stroke="#333" stroke-width="0.9"/>
<rect x="95.14" y="133.40" width="10.4" height="28.60" fill="#ff7e00" stroke="#333" stroke-width="0.9"/>
<rect x="114.99" y="138.49" width="10.4" height="23.51" fill="#ffff00" stroke="#333" stroke-width="0.9"/>
<rect x="134.84" y="140.91" width="10.4" height="21.09" fill="#ffff00" stroke="#333" stroke-width="0.9"/>
<rect x="154.70" y="142.61" width="10.4" height="19.39" fill="#ffff00" stroke="#333" stroke-width="0.9"/>
<rect x="174.55" y="144.30" width="10.4" height="17.70" fill="#ffff00" stroke="#333" stroke-width="0.9"/>
<rect x="194.41" y="142.61" width="10.4" height="19.39" fill="#ffff00" stroke="#333" stroke-width="0.9"/>
<rect x="214.26" y="143.34" width="10.4" height="18.66" fill="#ffff00" stroke="#333" stroke-width="0.9"/>
<rect x="234.11" y="144.79" width="10.4" height="17.21" fill="#ffff00" stroke="#333" stroke-width="0.9"/>
<rect x="253.97" y="146.24" width="10.4" height="15.76" fill="#ffff00" stroke="#333" stroke-width="0.9"/>
<rect x="273.82" y="145.27" width="10.4" height="16.73" fill="#ffff00" stroke="#333" stroke-width="0.9"/>
<rect x="293.68" y="146.61" width="10.4" height="15.39" fill="#ffff00" stroke="#333" stroke-width="0.9"/>
<rect x="313.53" y="148.67" width="10.4" height="13.33" fill="#ffff00" stroke="#333" stroke-width="0.9"/>
<rect x="333.39" y="150.85" width="10.4" height="11.15" fill="#00e400" stroke="#333" stroke-width="0.9"/>
<rect x="353.24" y="148.67" width="10.4" height="13.33" fill="#ffff00" stroke="#333" stroke-width="0.9"/>
<rect x="373.09" y="148.18" width="10.4" height="13.82" fill="#ffff00" stroke="#333" stroke-width="0.9"/>
<rect x="392.95" y="148.67" width="10.4" height="13.33" fill="#ffff00" stroke="#333" stroke-width="0.9"/>
<rect x="412.80" y="149.40" width="10.4" height="12.60" fill="#ffff00" stroke="#333" stroke-width="0.9"/>
<rect x="432.66" y="152.06" width="10.4" height="9.94" fill="#00e400" stroke="#333" stroke-width="0.9"/>
<rect x="452.51" y="146.61" width="10.4" height="15.39" fill="#ffff00" stroke="#333" stroke-width="0.9"/>
<rect x="472.36" y="140.18" width="10.4" height="21.82" fill="#ffff00" stroke="#333" stroke-width="0.9"/>
<rect x="492.22" y="141.40" width="10.4" height="20.60" fill="#ffff00" stroke="#333" stroke-width="0.9"/>
<rect x="512.07" y="140.67" width="10.4" height="21.33" fill="#ffff00" stroke="#333" stroke-width="0.9"/>
<rect x="50.7" y="161.50" width="476.5" height="1" fill="#ccd6eb"/>
<rect x="50.20" y="162.00" width="1" height="6" fill="#ccd6eb"/>
<rect x="70.05" y="162.00" width="1" height="6" fill="#ccd6eb"/>
<rect x="89.91" y="162.00" width="1" height="6" fill="#ccd6eb"/>
<rect x="109.76" y="162.00" width="1" height="6" fill="#ccd6eb"/>
<rect x="129.62" y="162.00" width="1" height="6" fill="#ccd6eb"/>
<rect x="149.47" y="162.00" width="1" height="6" fill="#ccd6eb"/>
<rect x="169.32" y="162.00" width="1" height="6" fill="#ccd6eb"/>
<rect x="189.18" y="162.00" width="1" height="6" fill="#ccd6eb"/>
<rect x="209.03" y="162.00" width="1" height="6" fill="#ccd6eb"/>
<rect x="228.89" y="162.00" width="1" height="6" fill="#ccd6eb"/>
<rect x="248.74" y="162.00" width="1" height="6" fill="#ccd6eb"/>
<rect x="268.60" y="162.00" width="1" height="6" fill="#ccd6eb"/>
<rect x="288.45" y="162.00" width="1" height="6" fill="#ccd6eb"/>
<rect x="308.30" y="162.00" width="1" height="6" fill="#ccd6eb"/>
<rect x="328.16" y="162.00" width="1" height="6" fill="#ccd6eb"/>
<rect x="348.01" y="162.00" width="1" height="6" fill="#ccd6eb"/>
<rect x="367.87" y="162.00" width="1" height="6" fill="#ccd6eb"/>
<rect x="387.72" y="162.00" width="1" height="6" fill="#ccd6eb"/>
<rect x="407.57" y="162.00" width="1" height="6" fill="#ccd6eb"/>
<rect x="427.43" y="162.00" width="1" height="6" fill="#ccd6eb"/>
<rect x="447.28" y="162.00" width="1" height="6" fill="#ccd6eb"/>
<rect x="467.14" y="162.00" width="1" height="6" fill="#ccd6eb"/>
<rect x="486.99" y="162.00" width="1" height="6" fill="#ccd6eb"/>
<rect x="506.85" y="162.00" width="1" height="6" fill="#ccd6eb"/>
<rect x="526.70" y="162.00" width="1" height="6" fill="#ccd6eb"/>
<text transform="translate(61.83,173.3) rotate(-45)" text-anchor="end" font-size="8" fill="#666">8 PM</text>
<text transform="translate(81.68,173.3) rotate(-45)" text-anchor="end" font-size="8" fill="#666">9 PM</text>
<text transform="translate(101.54,173.3) rotate(-45)" text-anchor="end" font-size="8" fill="#666">10 PM</text>
<text transform="translate(121.39,173.3) rotate(-45)" text-anchor="end" font-size="8" fill="#666">11 PM</text>
<text transform="translate(141.24,173.3) rotate(-45)" text-anchor="end" font-size="8" fill="#666">Mar 03, 2021 12 AM</text>
<text transform="translate(161.10,173.3) rotate(-45)" text-anchor="end" font-size="8" fill="#666">1 AM</text>
<text transform="translate(180.95,173.3) rotate(-45)" text-anchor="end" font-size="8" fill="#666">2 AM</text>
<text transform="translate(200.81,173.3) rotate(-45)" text-anchor="end" font-size="8" fill="#666">3 AM</text>
<text transform="translate(220.66,173.3) rotate(-45)" text-anchor="end" font-size="8" fill="#666">4 AM</text>
<text transform="translate(240.51,173.3) rotate(-45)" text-anchor="end" font-size="8" fill="#666">5 AM</text>
<text transform="translate(260.37,173.3) rotate(-45)" text-anchor="end" font-size="8" fill="#666">6 AM</text>
<text transform="translate(280.22,173.3) rotate(-45)" text-anchor="end" font-size="8" fill="#666">7 AM</text>
<text transform="translate(300.08,173.3) rotate(-45)" text-anchor="end" font-size="8" fill="#666">8 AM</text>
<text transform="translate(319.93,173.3) rotate(-45)" text-anchor="end" font-size="8" fill="#666">9 AM</text>
<text transform="translate(339.79,173.3) rotate(-45)" text-anchor="end" font-size="8" fill="#666">10 AM</text>
<text transform="translate(359.64,173.3) rotate(-45)" text-anchor="end" font-size="8" fill="#666">11 AM</text>
<text transform="translate(379.49,173.3) rotate(-45)" text-anchor="end" font-size="8" fill="#666">12 PM</text>
<text transform="translate(399.35,173.3) rotate(-45)" text-anchor="end" font-size="8" fill="#666">1 PM</text>
<text transform="translate(419.20,173.3) rotate(-45)" text-anchor="end" font-size="8" fill="#666">2 PM</text>
<text transform="translate(439.06,173.3) rotate(-45)" text-anchor="end" font-size="8" fill="#666">3 PM</text>
<text transform="translate(458.91,173.3) rotate(-45)" text-anchor="end" font-size="8" fill="#666">4 PM</text>
<text transform="translate(478.76,173.3) rotate(-45)" text-anchor="end" font-size="8" fill="#666">5 PM</text>
<text transform="translate(498.62,173.3) rotate(-45)" text-anchor="end" font-size="8" fill="#666">6 PM</text>
<text transform="translate(518.47,173.3) rotate(-45)" text-anchor="end" font-size="8" fill="#666">7 PM</text>
<rect x="252.3" y="240.1" width="10.3" height="7.6" fill="#ccc"/>
<text x="266.7" y="246.6" font-size="9.2" font-weight="bold" fill="#333" textLength="13.8" lengthAdjust="spacingAndGlyphs">AQI</text>
</svg></div>

<div id="cc" class="abs">
 <div class="h"><div style="font-size:10px;padding-top:5px;line-height:12px;position:relative;top:-1.3px">Current Conditions</div><div style="font-size:8px;line-height:14px;position:relative;top:0.8px">observed at</div><div style="font-size:10px;line-height:13px;position:relative;top:-0.5px">Mar 3, 2021 7:00 PM (LT)</div></div>
 <div class="y">88 AQI<br>Moderate<br>PM2.5</div>
 <div class="g"><div style="text-align:center;font-weight:bold;color:#222;padding-top:6px;line-height:10px">Health Message</div>
 <div style="padding:5.3px 0 0 3.5px;line-height:14px;width:163px;color:#3d3d3d">The AQI is between 51 and 100. Air quality is acceptable; however, pollution in this range may pose a moderate health concern for a very small number of individuals. People who are unusually sensitive to ozone or particle pollution may experience respiratory symptoms.</div></div>
</div>
</body></html>
